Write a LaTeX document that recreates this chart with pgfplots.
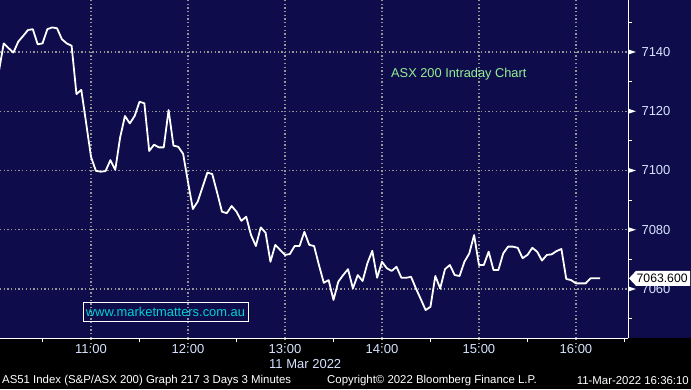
\documentclass[border=0pt]{standalone}
\usepackage{pgfplots}
\pgfplotsset{compat=1.18}
\usepackage{pgfplotstable}
\usepackage{fontspec}
\setmainfont{Liberation Sans}
\definecolor{bgnavy}{RGB}{14,12,74}
\definecolor{gridgray}{RGB}{150,150,150}
\definecolor{ticklbl}{RGB}{215,228,255}
\definecolor{titlegreen}{RGB}{150,240,150}
\definecolor{urlcyan}{RGB}{0,210,210}
\pgfplotstableread{
m v
3 7133.4
6 7142.9
9 7141.3
12 7139.8
15 7143.5
18 7145.4
21 7147.4
24 7147.7
27 7142.6
30 7142.9
33 7147.7
36 7148.3
39 7148.0
42 7144.3
45 7142.9
48 7142.1
51 7125.8
54 7127.2
57 7116.0
60 7104.6
63 7099.9
66 7099.6
69 7099.8
72 7103.5
75 7100.2
78 7111.1
81 7118.4
84 7115.9
87 7118.4
90 7123.2
93 7122.7
96 7106.6
99 7108.7
102 7107.8
105 7107.8
108 7120.4
111 7108.4
114 7108.0
117 7105.6
120 7096.1
123 7087.0
126 7089.5
129 7094.4
132 7099.3
135 7098.8
138 7092.6
141 7086.1
144 7085.6
147 7088.0
150 7086.1
153 7083.0
156 7084.4
159 7078.2
162 7074.5
165 7080.8
168 7079.0
171 7069.2
174 7074.9
177 7073.2
180 7071.5
183 7071.8
186 7074.5
189 7074.5
192 7079.3
195 7074.9
198 7074.5
201 7068.1
204 7062.1
207 7063.0
210 7056.3
213 7062.5
216 7064.7
219 7066.7
222 7060.2
225 7064.7
228 7062.7
231 7068.7
234 7072.9
237 7063.8
240 7069.2
243 7067.0
246 7066.1
249 7067.5
252 7063.8
255 7063.8
258 7064.1
261 7060.2
264 7056.6
267 7052.9
270 7054.0
273 7064.4
276 7060.2
279 7066.7
282 7068.1
285 7064.7
288 7064.4
291 7069.2
294 7072.0
297 7078.2
300 7068.1
303 7068.1
306 7072.6
309 7066.4
312 7066.4
315 7072.0
318 7074.3
321 7074.3
324 7073.9
327 7070.4
330 7071.5
333 7073.9
336 7072.6
339 7069.6
342 7071.5
345 7071.7
348 7072.8
351 7073.5
354 7063.4
357 7063.0
360 7061.9
363 7061.9
366 7061.9
369 7063.6
372 7063.6
375 7063.6
}\asxdata
\begin{document}
\begin{tikzpicture}
\useasboundingbox (0,0) rectangle (691pt,389pt);
\fill[black] (0,0) rectangle (691pt,389pt);
\fill[bgnavy] (0,51pt) rectangle (691pt,389pt);
\begin{axis}[
  at={(0pt,51pt)}, anchor=south west,
  scale only axis, width=628pt, height=338pt,
  xmin=3.7, xmax=392.2, ymin=7043.46, ymax=7157.55,
  axis x line*=bottom, axis y line*=right,
  axis line style={white, line width=1pt},
  xtick={60,120,180,240,300,360},
  xticklabels={11:00,12:00,13:00,14:00,15:00,16:00},
  minor xtick={30,90,150,210,270,330,390},
  ytick={7060,7080,7100,7120,7140},
  yticklabels={7060,7080,7100,7120,7140},
  minor ytick={7050,7070,7090,7110,7130,7150},
  tick align=outside,
  major tick length=6pt, minor tick length=4pt,
  every major x tick/.append style={gridgray, line width=1.2pt, dash pattern=on 1.3pt off 2.4pt},
  every major y tick/.append style={draw=none},
  minor tick style={white, line width=1pt},
  grid=major,
  major grid style={gridgray, line width=1.3pt, dash pattern=on 1.3pt off 2.4pt},
  xticklabel style={font=\fontsize{13}{15}\selectfont, text=ticklbl, yshift=3pt},
  yticklabel style={font=\fontsize{13}{15}\selectfont, text=ticklbl, anchor=west, xshift=4pt},
  clip mode=individual,
]
\addplot[white, line width=1.8pt, line join=round] table[x=m, y=v] {\asxdata};
\coordinate (ta) at (axis cs:392.2,7060);
\coordinate (tb) at (axis cs:392.2,7080);
\coordinate (tc) at (axis cs:392.2,7100);
\coordinate (td) at (axis cs:392.2,7120);
\coordinate (te) at (axis cs:392.2,7140);
\coordinate (lastv) at (axis cs:392.2,7063.6);
\end{axis}
\foreach \t in {ta,tb,tc,td,te}{
  \fill[white] ([yshift=2.6pt]\t) -- ([xshift=8pt]\t) -- ([yshift=-2.6pt]\t) -- cycle;
}
\fill[white] ([xshift=1pt]lastv) -- ([xshift=8pt,yshift=7.5pt]lastv) -- ([xshift=62pt,yshift=7.5pt]lastv) -- ([xshift=62pt,yshift=-7.5pt]lastv) -- ([xshift=8pt,yshift=-7.5pt]lastv) -- cycle;
\node[anchor=west, inner sep=0pt, font=\fontsize{12.2}{14}\selectfont, text=black] at ([xshift=8.5pt]lastv) {7063.600};
\node[anchor=west, inner sep=0pt, font=\fontsize{12.8}{15}\selectfont, text=titlegreen] at (391pt,315pt) {ASX 200 Intraday Chart};
\draw[white, line width=1pt] (83pt,68pt) rectangle (248pt,87pt);
\node[inner sep=0pt, font=\fontsize{12.9}{15}\selectfont, text=urlcyan] at (165.5pt,77.5pt) {www.marketmatters.com.au};
\node[anchor=west, inner sep=0pt, font=\fontsize{13}{15}\selectfont, text=ticklbl] at (269pt,25pt) {11 Mar 2022};
\node[anchor=west, inner sep=0pt, font=\fontsize{11.4}{13}\selectfont, text=white] at (2pt,8pt) {AS51 Index (S\&P/ASX 200) Graph 217 3 Days 3 Minutes};
\node[anchor=west, inner sep=0pt, font=\fontsize{11.4}{13}\selectfont, text=white] at (327pt,8pt) {Copyright\textcopyright{} 2022 Bloomberg Finance L.P.};
\node[anchor=east, inner sep=0pt, font=\fontsize{11.4}{13}\selectfont, text=white] at (689pt,8pt) {11-Mar-2022 16:36:10};
\end{tikzpicture}
\end{document}
